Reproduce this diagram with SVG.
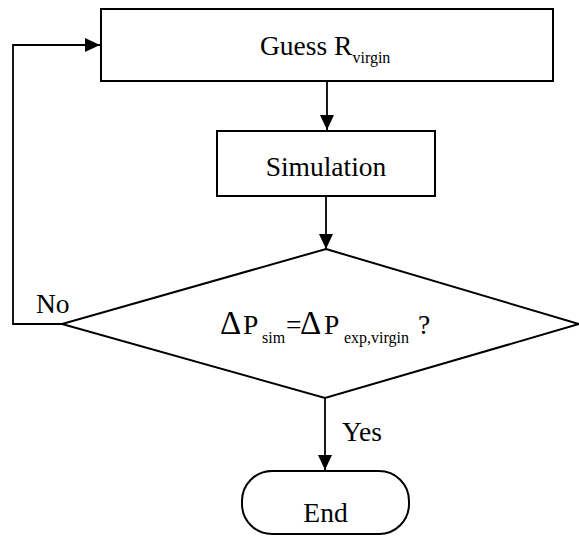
<svg xmlns="http://www.w3.org/2000/svg" width="579" height="536" viewBox="0 0 579 536">
  <style>
    .shape { fill: none; stroke: #000; stroke-width: 2; }
    .wire { fill: none; stroke: #000; stroke-width: 1.8; }
    text { font-family: 'Liberation Serif', 'DejaVu Serif', serif; font-size: 27.5px; fill: #000; }
    .sub { font-size: 16px; }
  </style>
  <defs>
    <marker id="arrow" viewBox="0 0 15 14" refX="15" refY="7" markerWidth="15" markerHeight="14" markerUnits="userSpaceOnUse" orient="auto">
      <path d="M0,0 L15,7 L0,14 Z" fill="#000"/>
    </marker>
  </defs>
  <rect width="579" height="536" fill="#fff"/>

  <g id="connectors">
    <line class="wire" x1="327" y1="81" x2="327" y2="130" marker-end="url(#arrow)"/>
    <line class="wire" x1="326" y1="196" x2="326" y2="249" marker-end="url(#arrow)"/>
    <line class="wire" x1="325" y1="398" x2="325" y2="470" marker-end="url(#arrow)"/>
    <polyline class="wire" points="62,324 13,324 13,45 100,45" stroke-width="2" marker-end="url(#arrow)"/>
    <text font-family="Liberation Serif, DejaVu Serif, serif" x="36" y="313">No</text>
    <text font-family="Liberation Serif, DejaVu Serif, serif" x="342" y="441">Yes</text>
  </g>

  <g id="guess">
    <rect class="shape" x="101" y="9" width="452" height="72"/>
    <text font-family="Liberation Serif, DejaVu Serif, serif" x="260" y="54.5">Guess R<tspan class="sub" dy="8">virgin</tspan></text>
  </g>

  <g id="simulation">
    <rect class="shape" x="217" y="131" width="218" height="65"/>
    <text font-family="Liberation Serif, DejaVu Serif, serif" x="326" y="176" text-anchor="middle">Simulation</text>
  </g>

  <g id="check">
    <polygon class="shape" points="326,249 579,324 325,398 62,324"/>
    <text font-family="Liberation Serif, DejaVu Serif, serif" y="334"><tspan x="220" font-size="33">Δ</tspan><tspan x="243">P</tspan><tspan class="sub" x="262" dy="8.5">sim</tspan><tspan x="286" dy="-8.5">=</tspan><tspan x="300" font-size="33">Δ</tspan><tspan x="324">P</tspan><tspan class="sub" x="344" dy="8.5">exp,virgin</tspan><tspan x="418" dy="-8.5">?</tspan></text>
  </g>

  <g id="end">
    <rect class="shape" x="242" y="471" width="167" height="63" rx="30" ry="30"/>
    <text font-family="Liberation Serif, DejaVu Serif, serif" x="325.5" y="521.5" text-anchor="middle">End</text>
  </g>
</svg>
